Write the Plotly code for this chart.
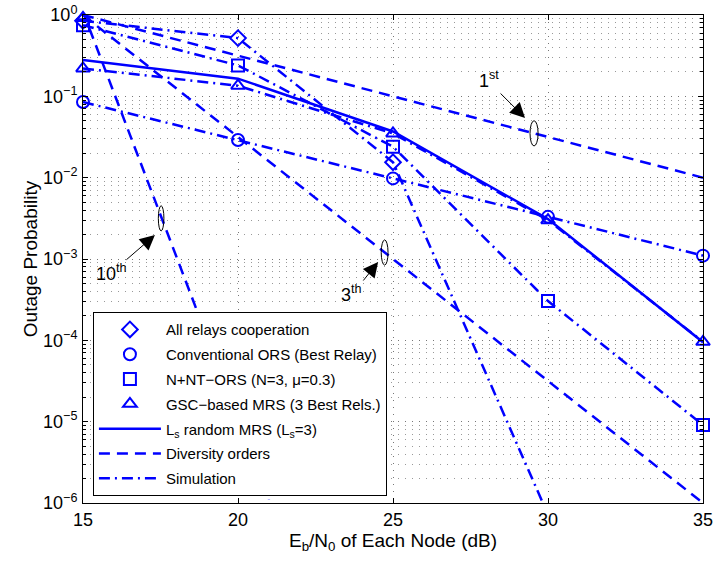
import plotly.graph_objects as go

# ---------------- data ----------------
snr = [15, 20, 25, 30, 35]

# analytical markers
all_relays = [0.85, 0.52, 0.0155, 7.2e-7, None]
conv_ors = [0.085, 0.029, 0.0098, 0.0033, 0.0011]
nnt_ors = [0.75, 0.24, 0.024, 3.04e-4, 9.1e-6]
gsc_x = [15, 15, 20, 25, 30, 35]
gsc_mrs = [0.92, 0.22, 0.135, 0.035, 0.0030, 9.6e-5]
ls_random = [0.28, 0.165, 0.037, 0.0031, 9.5e-5]

# simulation curves
sim_all_x = [15, 20, 25, 30]
sim_all_y = [0.85, 0.52, 0.0155, 7.2e-7]
sim_conv_y = [0.085, 0.029, 0.0098, 0.0033, 0.0011]
sim_nnt_y = [0.75, 0.24, 0.024, 3.04e-4, 9.1e-6]
sim_gsc_y = [0.22, 0.135, 0.035, 0.0030, 9.6e-5]

# diversity-order reference lines
div1_x, div1_y = [15, 35], [1.0, 1e-2]
div3_x, div3_y = [15, 35], [1.0, 1e-6]
div10_x, div10_y = [15, 21], [1.1, 1.1e-6]

y_tickvals = [1e-6, 1e-5, 1e-4, 1e-3, 1e-2, 1e-1, 1]
y_ticktext = ["10<sup>−6</sup>", "10<sup>−5</sup>", "10<sup>−4</sup>", "10<sup>−3</sup>",
              "10<sup>−2</sup>", "10<sup>−1</sup>", "10<sup>0</sup>"]
x_tickvals = [15, 20, 25, 30, 35]

BLUE = "rgb(0,0,255)"
DASH = "11px,7px"
DASHDOT = "11px,5px,2px,5px"
FONT = "Liberation Sans, Arial, sans-serif"

fig = go.Figure()

# diversity lines
for i, (xx, yy) in enumerate([(div1_x, div1_y), (div3_x, div3_y), (div10_x, div10_y)]):
    fig.add_trace(go.Scatter(x=xx, y=yy, mode="lines", line=dict(color=BLUE, width=2.5, dash=DASH),
                             name="Diversity orders", legendgroup="div", showlegend=(i == 0),
                             legendrank=6))

# simulation lines
sims = [(sim_all_x, sim_all_y), (snr, sim_conv_y), (snr, sim_nnt_y), (snr, sim_gsc_y)]
for i, (xx, yy) in enumerate(sims):
    fig.add_trace(go.Scatter(x=xx, y=yy, mode="lines", line=dict(color=BLUE, width=2.5, dash=DASHDOT),
                             name="Simulation", legendgroup="sim", showlegend=(i == 0),
                             legendrank=7))

# solid Ls random MRS
fig.add_trace(go.Scatter(x=snr, y=ls_random, mode="lines", line=dict(color=BLUE, width=2.5),
                         name="L<sub>s</sub> random MRS (L<sub>s</sub>=3)", legendrank=5))

markers = [
    ("All relays cooperation", snr, all_relays, "diamond-open", 1),
    ("Conventional ORS (Best Relay)", snr, conv_ors, "circle-open", 2),
    ("N+NT−ORS (N=3, μ=0.3)", snr, nnt_ors, "square-open", 3),
    ("GSC−based MRS (3 Best Rels.)", gsc_x, gsc_mrs, "triangle-up-open", 4),
]
for name, xx, yy, sym, rank in markers:
    fig.add_trace(go.Scatter(x=xx, y=yy, mode="markers", name=name, legendrank=rank, cliponaxis=False,
                             marker=dict(symbol=sym, size=12, color=BLUE, line=dict(width=2, color=BLUE))))

# ellipses marking the diversity lines (center x, center y, half-width dB, half-height decades)
ellipses = [(29.55, 10 ** (-1.455), 0.13, 0.155), (17.52, 10 ** (-2.50), 0.09, 0.155),
            (24.73, 10 ** (-2.92), 0.11, 0.155)]
for cx, cy, hw, hh in ellipses:
    fig.add_shape(type="circle", xref="x", yref="y",
                  x0=cx - hw, x1=cx + hw, y0=cy * 10 ** (-hh), y1=cy * 10 ** hh,
                  line=dict(color="black", width=1))

# arrows
arrows = [(29.26, -1.266, -26, -26), (17.32, -2.705, -30, 26), (24.52, -3.037, -16, 20)]
for x, ly, ax, ay in arrows:
    fig.add_annotation(x=x, y=ly, xref="x", yref="y", ax=ax, ay=ay, text="", showarrow=True,
                       arrowhead=2, arrowsize=3, arrowwidth=1, arrowcolor="black")

labels = [("1<sup>st</sup>", 28.1, -0.79), ("10<sup>th</sup>", 15.92, -3.16), ("3<sup>th</sup>", 23.65, -3.42)]
for t, x, ly in labels:
    fig.add_annotation(x=x, y=ly, xref="x", yref="y", text=t, showarrow=False,
                       font=dict(size=18, color="black", family=FONT))

minor_y = [m * 10 ** e for e in range(-6, 0) for m in range(2, 10)]

fig.update_layout(
    width=714, height=562,
    margin=dict(l=83, r=11, t=15, b=59, autoexpand=False),
    paper_bgcolor="white", plot_bgcolor="white",
    font=dict(family=FONT, size=16, color="black"),
    showlegend=True,
    legend=dict(x=0.016, y=0.391, xanchor="left", yanchor="top",
                bgcolor="white", bordercolor="black", borderwidth=1,
                font=dict(size=15, family=FONT), tracegroupgap=2.3,
                itemwidth=62),
    xaxis=dict(range=[15, 35], tickvals=x_tickvals, showline=True, linecolor="black", linewidth=1,
               mirror="ticks", ticks="inside", ticklen=5, tickcolor="black", automargin=False,
               showgrid=True, gridcolor="#777", griddash="1px,6px", gridwidth=1, zeroline=False,
               title=dict(text="E<sub>b</sub>/N<sub>0</sub> of Each Node (dB)", standoff=2,
                          font=dict(size=19)),
               tickfont=dict(size=18)),
    yaxis=dict(type="log", range=[-6, 0], tickvals=y_tickvals, ticktext=y_ticktext,
               showline=True, linecolor="black", linewidth=1, mirror="ticks", automargin=False,
               ticks="inside", ticklen=5, tickcolor="black",
               showgrid=True, gridcolor="#777", griddash="1px,6px", gridwidth=1, zeroline=False,
               minor=dict(tickvals=minor_y, ticks="inside", ticklen=3, tickcolor="black",
                          showgrid=True, gridcolor="#999", griddash="1px,6px", gridwidth=1),
               title=dict(text="Outage Probability", standoff=0, font=dict(size=19)),
               tickfont=dict(size=18), ticklabelstandoff=1),
)

fig.write_html("out.html")
